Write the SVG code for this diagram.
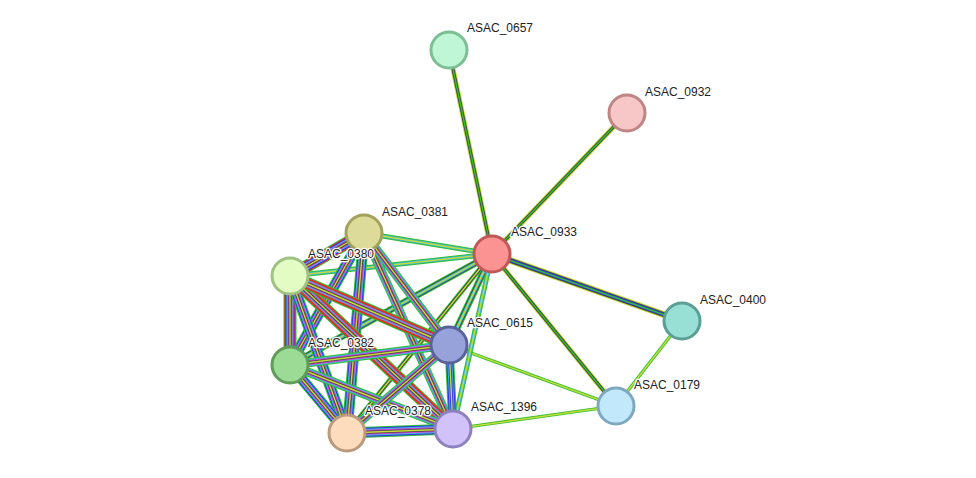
<svg xmlns="http://www.w3.org/2000/svg" width="976" height="478" viewBox="0 0 976 478">
<style>
line{fill:none}
.g{stroke:#2fbf2f}.k{stroke:#444}.y{stroke:#c5dc3a}.b{stroke:#3535ee}.c{stroke:#3cb9dc}.m{stroke:#d83ed8}.r{stroke:#e82a2a}
.w14{stroke-width:13}.w12{stroke-width:11}.w10{stroke-width:9}.w8{stroke-width:7}.w6{stroke-width:5}.w4{stroke-width:3.2}.w2{stroke-width:1.4}
.n{stroke-width:3}
text{font-family:"Liberation Sans",Arial,sans-serif;font-size:12px;fill:#222;stroke:#fff;stroke-width:2.5px;paint-order:stroke;stroke-linejoin:round}
</style>
<rect width="976" height="478" fill="#fff"/>
<defs>
<line id="e1" x1="492" y1="254" x2="449" y2="50"/>
<line id="e2" x1="492" y1="254" x2="627" y2="113"/>
<line id="e3" x1="492" y1="254" x2="682" y2="321"/>
<line id="e4" x1="492" y1="254" x2="616" y2="406"/>
<line id="e5" x1="682" y1="321" x2="616" y2="406"/>
<line id="e6" x1="449" y1="345" x2="616" y2="406"/>
<line id="e7" x1="453" y1="429" x2="616" y2="406"/>
<line id="e8" x1="492" y1="254" x2="449" y2="345"/>
<line id="e9" x1="492" y1="254" x2="453" y2="429"/>
<line id="e10" x1="492" y1="254" x2="364" y2="233"/>
<line id="e11" x1="492" y1="254" x2="290" y2="276"/>
<line id="e12" x1="492" y1="254" x2="290" y2="365"/>
<line id="e13" x1="492" y1="254" x2="347" y2="433"/>
<line id="c1" x1="364" y1="233" x2="290" y2="276"/>
<line id="c2" x1="364" y1="233" x2="290" y2="365"/>
<line id="c3" x1="364" y1="233" x2="347" y2="433"/>
<line id="c4" x1="364" y1="233" x2="453" y2="429"/>
<line id="c5" x1="364" y1="233" x2="449" y2="345"/>
<line id="c6" x1="290" y1="276" x2="290" y2="365"/>
<line id="c7" x1="290" y1="276" x2="347" y2="433"/>
<line id="c8" x1="290" y1="276" x2="453" y2="429"/>
<line id="c9" x1="290" y1="276" x2="449" y2="345"/>
<line id="c10" x1="290" y1="365" x2="347" y2="433"/>
<line id="c11" x1="290" y1="365" x2="453" y2="429"/>
<line id="c12" x1="290" y1="365" x2="449" y2="345"/>
<line id="c13" x1="347" y1="433" x2="453" y2="429"/>
<line id="c14" x1="347" y1="433" x2="449" y2="345"/>
<line id="c15" x1="453" y1="429" x2="449" y2="345"/>
</defs>
<g id="connectors">
<g><use href="#e1" class="y w6"/><use href="#e1" class="k w4"/><use href="#e1" class="g w2"/></g>
<g><use href="#e2" class="y w6"/><use href="#e2" class="k w4"/><use href="#e2" class="g w2"/></g>
<g><use href="#e3" class="y w8"/><use href="#e3" class="k w6"/><use href="#e3" class="b w4"/><use href="#e3" class="g w2"/></g>
<g><use href="#e4" class="y w6"/><use href="#e4" class="k w4"/><use href="#e4" class="g w2"/></g>
<g><use href="#e5" class="g w4"/><use href="#e5" class="y w2"/></g>
<g><use href="#e6" class="g w4"/><use href="#e6" class="y w2"/></g>
<g><use href="#e7" class="g w4"/><use href="#e7" class="y w2"/></g>
<g><use href="#e8" class="g w8"/><use href="#e8" class="k w6"/><use href="#e8" class="c w4"/><use href="#e8" class="y w2"/></g>
<g><use href="#e9" class="g w6"/><use href="#e9" class="c w4"/><use href="#e9" class="y w2"/></g>
<g><use href="#e10" class="g w6"/><use href="#e10" class="c w4"/><use href="#e10" class="y w2"/></g>
<g><use href="#e11" class="g w6"/><use href="#e11" class="c w4"/><use href="#e11" class="y w2"/></g>
<g><use href="#e12" class="g w8"/><use href="#e12" class="k w6"/><use href="#e12" class="c w4"/><use href="#e12" class="y w2"/></g>
<g><use href="#e13" class="g w6"/><use href="#e13" class="k w4"/><use href="#e13" class="y w2"/></g>
<g><use href="#c1" class="g w14"/><use href="#c1" class="r w12"/><use href="#c1" class="b w10"/><use href="#c1" class="c w8"/><use href="#c1" class="m w6"/><use href="#c1" class="k w4"/><use href="#c1" class="y w2"/></g>
<g><use href="#c2" class="g w12"/><use href="#c2" class="b w10"/><use href="#c2" class="c w8"/><use href="#c2" class="m w6"/><use href="#c2" class="k w4"/><use href="#c2" class="y w2"/></g>
<g><use href="#c3" class="g w12"/><use href="#c3" class="b w10"/><use href="#c3" class="c w8"/><use href="#c3" class="m w6"/><use href="#c3" class="k w4"/><use href="#c3" class="y w2"/></g>
<g><use href="#c4" class="g w10"/><use href="#c4" class="c w8"/><use href="#c4" class="m w6"/><use href="#c4" class="k w4"/><use href="#c4" class="y w2"/></g>
<g><use href="#c5" class="g w10"/><use href="#c5" class="c w8"/><use href="#c5" class="m w6"/><use href="#c5" class="k w4"/><use href="#c5" class="y w2"/></g>
<g><use href="#c6" class="g w14"/><use href="#c6" class="r w12"/><use href="#c6" class="b w10"/><use href="#c6" class="c w8"/><use href="#c6" class="m w6"/><use href="#c6" class="k w4"/><use href="#c6" class="y w2"/></g>
<g><use href="#c7" class="g w12"/><use href="#c7" class="b w10"/><use href="#c7" class="c w8"/><use href="#c7" class="m w6"/><use href="#c7" class="k w4"/><use href="#c7" class="y w2"/></g>
<g><use href="#c8" class="g w14"/><use href="#c8" class="r w12"/><use href="#c8" class="c w8"/><use href="#c8" class="m w6"/><use href="#c8" class="k w4"/><use href="#c8" class="y w2"/></g>
<g><use href="#c9" class="g w14"/><use href="#c9" class="r w12"/><use href="#c9" class="c w8"/><use href="#c9" class="m w6"/><use href="#c9" class="k w4"/><use href="#c9" class="y w2"/></g>
<g><use href="#c10" class="g w12"/><use href="#c10" class="b w10"/><use href="#c10" class="c w8"/><use href="#c10" class="m w6"/><use href="#c10" class="k w4"/><use href="#c10" class="y w2"/></g>
<g><use href="#c11" class="g w10"/><use href="#c11" class="c w8"/><use href="#c11" class="m w6"/><use href="#c11" class="k w4"/><use href="#c11" class="y w2"/></g>
<g><use href="#c12" class="g w10"/><use href="#c12" class="c w8"/><use href="#c12" class="m w6"/><use href="#c12" class="k w4"/><use href="#c12" class="y w2"/></g>
<g><use href="#c13" class="g w12"/><use href="#c13" class="b w10"/><use href="#c13" class="c w8"/><use href="#c13" class="m w6"/><use href="#c13" class="k w4"/><use href="#c13" class="y w2"/></g>
<g><use href="#c14" class="g w10"/><use href="#c14" class="c w8"/><use href="#c14" class="m w6"/><use href="#c14" class="k w4"/><use href="#c14" class="y w2"/></g>
<g><use href="#c15" class="g w10"/><use href="#c15" class="b w8"/><use href="#c15" class="c w6"/><use href="#c15" class="b w4"/><use href="#c15" class="y w2"/></g>
</g>
<g id="ASAC_0657"><circle cx="449" cy="50" r="18" class="n" fill="#bff7d6" stroke="#7cbf94"/><text x="467" y="32">ASAC_0657</text></g>
<g id="ASAC_0932"><circle cx="627" cy="113" r="18" class="n" fill="#f7c6c6" stroke="#bf8484"/><text x="645" y="96">ASAC_0932</text></g>
<g id="ASAC_0933"><circle cx="492" cy="254" r="18" class="n" fill="#fb9393" stroke="#c05858"/><text x="511" y="236">ASAC_0933</text></g>
<g id="ASAC_0381"><circle cx="364" cy="233" r="18" class="n" fill="#dddb99" stroke="#a3a15e"/><text x="382" y="216">ASAC_0381</text></g>
<g id="ASAC_0380"><circle cx="290" cy="276" r="18" class="n" fill="#e2fcc4" stroke="#9fc283"/><text x="308" y="258">ASAC_0380</text></g>
<g id="ASAC_0615"><circle cx="449" cy="345" r="18" class="n" fill="#97a2db" stroke="#59639a"/><text x="467" y="327">ASAC_0615</text></g>
<g id="ASAC_0400"><circle cx="682" cy="321" r="18" class="n" fill="#98e0d6" stroke="#5a9e94"/><text x="700" y="304">ASAC_0400</text></g>
<g id="ASAC_0382"><circle cx="290" cy="365" r="18" class="n" fill="#9cdb95" stroke="#5f9c58"/><text x="308" y="347">ASAC_0382</text></g>
<g id="ASAC_0179"><circle cx="616" cy="406" r="18" class="n" fill="#c2e8fb" stroke="#7fa8c0"/><text x="634" y="389">ASAC_0179</text></g>
<g id="ASAC_0378"><circle cx="347" cy="433" r="18" class="n" fill="#fddcbe" stroke="#bb9a7c"/><text x="365" y="415">ASAC_0378</text></g>
<g id="ASAC_1396"><circle cx="453" cy="429" r="18" class="n" fill="#d1c2fa" stroke="#8e80bd"/><text x="471" y="411">ASAC_1396</text></g>
</svg>
